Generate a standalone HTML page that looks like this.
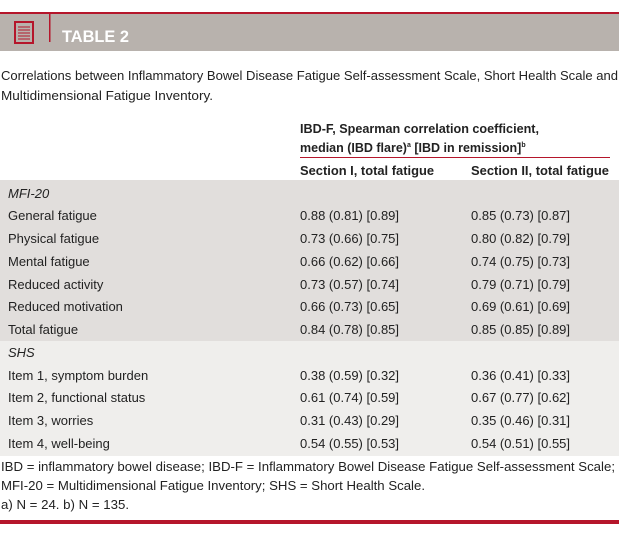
<!DOCTYPE html>
<html><head><meta charset="utf-8"><style>
html,body{margin:0;padding:0;background:#fff;width:619px;height:538px;overflow:hidden}
svg{display:block}
text{font-family:"Liberation Sans",sans-serif;font-size:12.5px;fill:#222}
.r{font-size:13px}
.b{font-weight:bold}
.i{font-style:italic}
</style></head><body>
<svg width="619" height="538" viewBox="0 0 619 538">
<rect x="0" y="12" width="619" height="2" fill="#b5162b"/>
<rect x="0" y="14" width="619" height="37" fill="#b8b2ad"/>
<rect x="15" y="22" width="18" height="21" fill="none" stroke="#b5162b" stroke-width="2"/>
<g stroke="#b5162b" stroke-width="1"><line x1="18" y1="27" x2="30" y2="27"/><line x1="18" y1="30" x2="30" y2="30"/><line x1="18" y1="33" x2="30" y2="33"/><line x1="18" y1="36" x2="30" y2="36"/><line x1="18" y1="39" x2="30" y2="39"/></g>
<rect x="49" y="13" width="1.5" height="29" fill="#b5162b"/>
<text x="62" y="42" class="b" style="font-size:17px;fill:#fff" textLength="67" lengthAdjust="spacingAndGlyphs">TABLE 2</text>
<text x="1" y="80" textLength="617" lengthAdjust="spacingAndGlyphs">Correlations between Inflammatory Bowel Disease Fatigue Self-assessment Scale, Short Health Scale and</text>
<text x="1" y="100" textLength="212" lengthAdjust="spacingAndGlyphs">Multidimensional Fatigue Inventory.</text>
<text x="300" y="133" class="b" textLength="239" lengthAdjust="spacingAndGlyphs">IBD-F, Spearman correlation coefficient,</text>
<text x="300" y="152" class="b">median (IBD flare)<tspan style="font-size:7px" dy="-5">a</tspan><tspan dy="5"> [IBD in remission]</tspan><tspan style="font-size:7px" dy="-5">b</tspan></text>
<rect x="300" y="157" width="310" height="1" fill="#b5162b"/>
<text x="300" y="175" class="b" textLength="134" lengthAdjust="spacingAndGlyphs">Section I, total fatigue</text>
<text x="471" y="175" class="b" textLength="138" lengthAdjust="spacingAndGlyphs">Section II, total fatigue</text>
<rect x="0" y="180" width="619" height="161" fill="#e1dedc"/>
<rect x="0" y="341" width="619" height="115" fill="#efeeec"/>
<g>
<text class="r i" x="8" y="198">MFI-20</text>
<text class="r" x="8" y="220">General fatigue</text><text class="r" x="300" y="220">0.88 (0.81) [0.89]</text><text class="r" x="471" y="220">0.85 (0.73) [0.87]</text>
<text class="r" x="8" y="243">Physical fatigue</text><text class="r" x="300" y="243">0.73 (0.66) [0.75]</text><text class="r" x="471" y="243">0.80 (0.82) [0.79]</text>
<text class="r" x="8" y="266">Mental fatigue</text><text class="r" x="300" y="266">0.66 (0.62) [0.66]</text><text class="r" x="471" y="266">0.74 (0.75) [0.73]</text>
<text class="r" x="8" y="289">Reduced activity</text><text class="r" x="300" y="289">0.73 (0.57) [0.74]</text><text class="r" x="471" y="289">0.79 (0.71) [0.79]</text>
<text class="r" x="8" y="311">Reduced motivation</text><text class="r" x="300" y="311">0.66 (0.73) [0.65]</text><text class="r" x="471" y="311">0.69 (0.61) [0.69]</text>
<text class="r" x="8" y="334">Total fatigue</text><text class="r" x="300" y="334">0.84 (0.78) [0.85]</text><text class="r" x="471" y="334">0.85 (0.85) [0.89]</text>
<text class="r i" x="8" y="357">SHS</text>
<text class="r" x="8" y="380">Item 1, symptom burden</text><text class="r" x="300" y="380">0.38 (0.59) [0.32]</text><text class="r" x="471" y="380">0.36 (0.41) [0.33]</text>
<text class="r" x="8" y="402">Item 2, functional status</text><text class="r" x="300" y="402">0.61 (0.74) [0.59]</text><text class="r" x="471" y="402">0.67 (0.77) [0.62]</text>
<text class="r" x="8" y="425">Item 3, worries</text><text class="r" x="300" y="425">0.31 (0.43) [0.29]</text><text class="r" x="471" y="425">0.35 (0.46) [0.31]</text>
<text class="r" x="8" y="448">Item 4, well-being</text><text class="r" x="300" y="448">0.54 (0.55) [0.53]</text><text class="r" x="471" y="448">0.54 (0.51) [0.55]</text>
</g>
<text x="1" y="471" textLength="614" lengthAdjust="spacingAndGlyphs">IBD = inflammatory bowel disease;  IBD-F = Inflammatory Bowel Disease Fatigue Self-assessment Scale;</text>
<text x="1" y="490" textLength="424" lengthAdjust="spacingAndGlyphs">MFI-20 = Multidimensional Fatigue Inventory;  SHS = Short Health Scale.</text>
<text x="1" y="509" textLength="128" lengthAdjust="spacingAndGlyphs">a) N = 24.  b) N = 135.</text>
<rect x="0" y="520" width="619" height="4" fill="#b5162b"/>
</svg>
</body></html>
